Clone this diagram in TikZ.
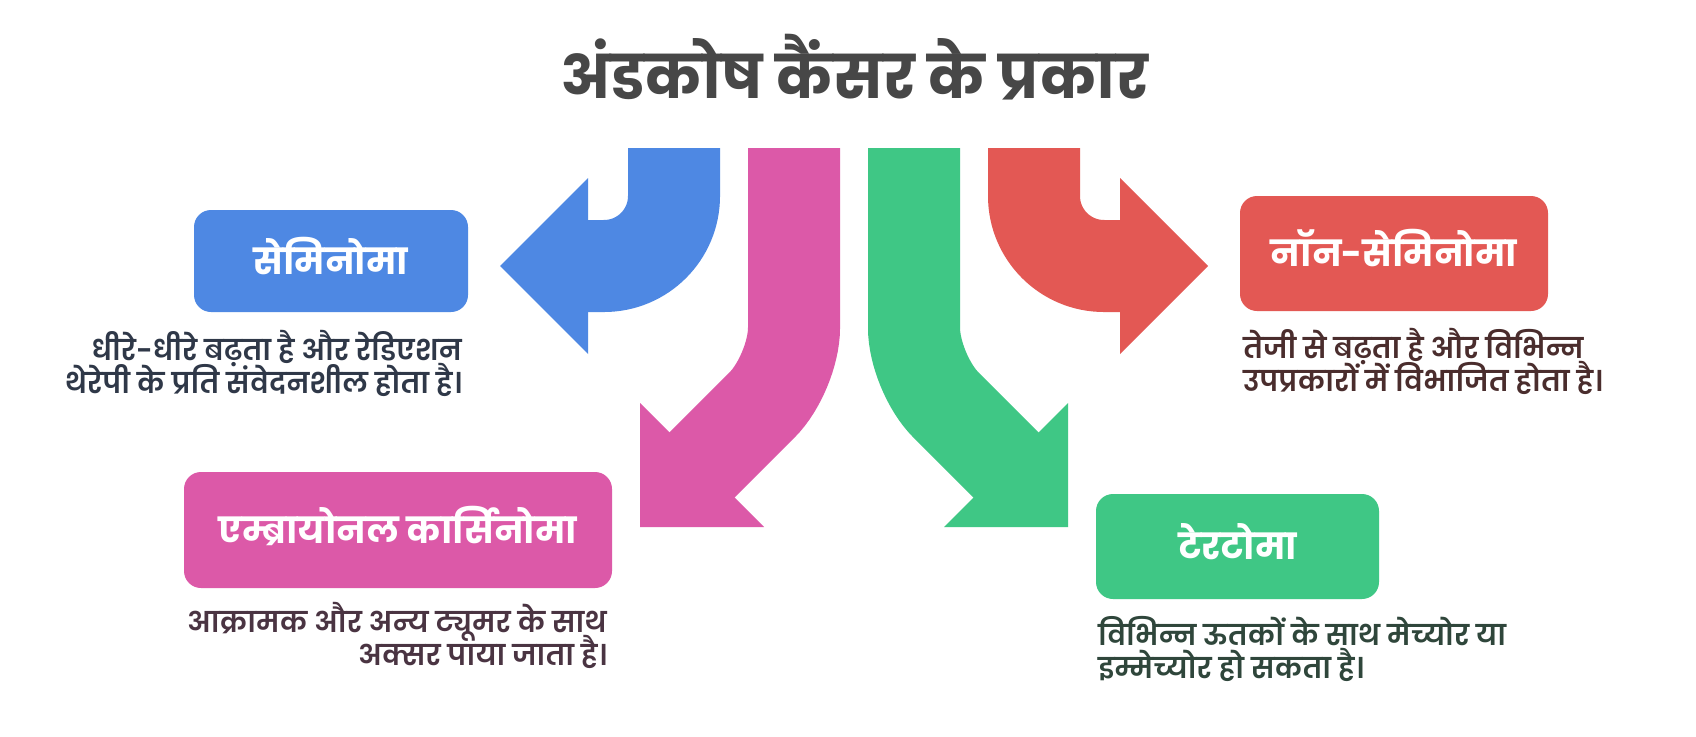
\documentclass[tikz,border=0pt]{standalone}
\usepackage{fontspec}
\newfontfamily\pop[Script=Devanagari]{Poppins}
\newfontfamily\popd[Script=Devanagari,UprightFont={* SemiBold}]{Poppins}
\newcommand\mytightlines{\lineskiplimit=-100pt\relax\lineskip=0pt\relax}
\definecolor{cblue}{HTML}{4E88E3}
\definecolor{cpink}{HTML}{DC59A8}
\definecolor{cgreen}{HTML}{3FC785}
\definecolor{cred}{HTML}{E35854}
\definecolor{ctitle}{HTML}{474747}
\definecolor{dblue}{HTML}{2F3848}
\definecolor{dred}{HTML}{4A2D2D}
\definecolor{dpink}{HTML}{4A3442}
\definecolor{dgreen}{HTML}{2F463B}
\tikzset{
  shaft/.style={draw=#1, line width=92pt, line cap=butt},
  tiphead/.style={fill=#1, draw=none},
  box/.style={fill=#1, draw=none, rounded corners=17pt, inner sep=0pt,
    text height=26pt, text depth=0pt,
    text=white, font=\pop\bfseries\fontsize{36}{42}\selectfont},
  desc/.style={text=#1, inner sep=0pt,
    font=\popd\fontsize{28.5}{33}\selectfont\mytightlines},
  ttl/.style={text=ctitle, inner sep=0pt, font=\pop\bfseries\fontsize{60}{72}\selectfont}
}
\begin{document}
\begin{tikzpicture}[x=1pt,y=-1pt]
\useasboundingbox (0,0) rectangle (1696,736);
\fill[white] (0,0) rectangle (1696,736);

% title
\node[ttl, anchor=base] (title) at (854,98) {अंडकोष कैंसर के प्रकार};

% arrows
\draw[shaft=cblue, rounded corners=70pt] (674,148) -- (674,266) -- (584,266);
\fill[tiphead=cblue] (588,178) -- (500,266) -- (588,354) -- cycle;

\draw[shaft=cpink, rounded corners=45pt] (794,148) -- (794,373) -- (699,468);
\fill[tiphead=cpink] (640,403) -- (640,527) -- (764,527) -- cycle;

\draw[shaft=cgreen, rounded corners=45pt] (914,148) -- (914,373) -- (1009,468);
\fill[tiphead=cgreen] (1068,403) -- (1068,527) -- (944,527) -- cycle;

\draw[shaft=cred, rounded corners=70pt] (1034,148) -- (1034,266) -- (1124,266);
\fill[tiphead=cred] (1120,178) -- (1208,266) -- (1120,354) -- cycle;

% boxes
\node[box=cblue, minimum width=274pt, minimum height=102pt] (sem) at (331,261) {सेमिनोमा};
\node[box=cred, minimum width=308pt, minimum height=115pt] (nonsem) at (1394,253.5) {नॉन-सेमिनोमा};
\node[box=cpink, minimum width=428pt, minimum height=116pt] (emb) at (398,530) {एम्ब्रायोनल कार्सिनोमा};
\node[box=cgreen, minimum width=283pt, minimum height=105pt] (ter) at (1237.5,546.5) {टेरटोमा};

% descriptions (base anchor = baseline of last line)
\node[desc=dblue, anchor=base east, align=right] (semd) at (462,393) {धीरे-धीरे बढ़ता है और रेडिएशन\\थेरेपी के प्रति संवेदनशील होता है।};
\node[desc=dred, anchor=base west, align=left] (nonsemd) at (1243,391) {तेजी से बढ़ता है और विभिन्न\\उपप्रकारों में विभाजित होता है।};
\node[desc=dpink, anchor=base east, align=right] (embd) at (607,665) {आक्रामक और अन्य ट्यूमर के साथ\\अक्सर पाया जाता है।};
\node[desc=dgreen, anchor=base west, align=left] (terd) at (1098,678) {विभिन्न ऊतकों के साथ मेच्योर या\\इम्मेच्योर हो सकता है।};
\end{tikzpicture}
\end{document}
